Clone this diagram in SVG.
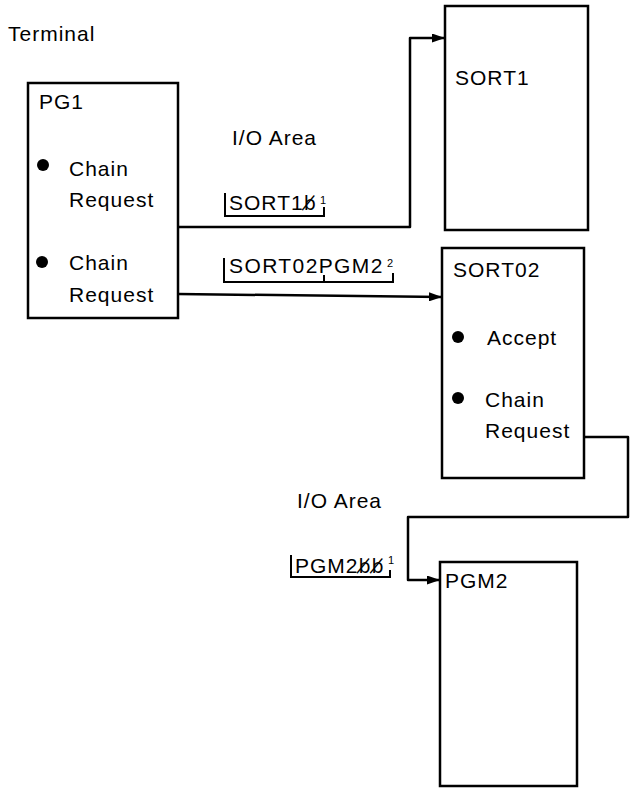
<svg xmlns="http://www.w3.org/2000/svg" width="630" height="789" viewBox="0 0 630 789">
<style>
text{font-family:"Liberation Sans","DejaVu Sans",sans-serif;font-size:21px;fill:#000;letter-spacing:1px}
.sup{font-size:11px;letter-spacing:0}
.bl{font-family:"DejaVu Sans",sans-serif;font-size:19px}
.box{fill:none;stroke:#000;stroke-width:2.5}
.ln{fill:none;stroke:#000;stroke-width:2.5;stroke-linejoin:round}
.br{fill:none;stroke:#000;stroke-width:2}
</style>
<defs>
<marker id="ah" viewBox="0 0 13 9" refX="13" refY="4.5" markerWidth="13" markerHeight="9" markerUnits="userSpaceOnUse" orient="auto">
<path d="M0,0 L13,4.5 L0,9 Z" fill="#000"/>
</marker>
</defs>
<rect width="630" height="789" fill="#fff"/>
<text x="8" y="41">Terminal</text>
<g id="PG1">
<rect class="box" x="28" y="83" width="150" height="235"/>
<text x="39" y="109">PG1</text>
<circle cx="43" cy="165" r="6"/>
<text x="69" y="176">Chain</text>
<text x="69" y="207">Request</text>
<circle cx="42" cy="262" r="6"/>
<text x="69" y="270">Chain</text>
<text x="69" y="302">Request</text>
</g>
<g id="SORT1">
<rect class="box" x="445" y="6" width="143" height="224"/>
<text x="455" y="85">SORT1</text>
</g>
<g id="SORT02">
<rect class="box" x="442" y="248" width="142" height="230"/>
<text x="453" y="277">SORT02</text>
<circle cx="458" cy="337" r="6"/>
<text x="487" y="345">Accept</text>
<circle cx="458" cy="398" r="6"/>
<text x="485" y="407">Chain</text>
<text x="485" y="438">Request</text>
</g>
<g id="PGM2">
<rect class="box" x="440" y="562" width="137" height="224"/>
<text x="445" y="588">PGM2</text>
</g>
<g id="labels">
<text x="232" y="145">I/O Area</text>
<text x="229" y="210">SORT1<tspan class="bl">b̸</tspan></text>
<text class="sup" x="320" y="204">1</text>
<path class="br" d="M225,193 V216 H324 V207"/>
<text x="229" y="273" style="letter-spacing:1.4px">SORT02PGM2</text>
<text class="sup" x="387" y="267">2</text>
<path class="br" d="M224,258 V282 H393 V273 M324,275 V282"/>
<text x="297" y="508">I/O Area</text>
<text x="295" y="573">PGM2<tspan class="bl">b̸b̸</tspan></text>
<text class="sup" x="388" y="564">1</text>
<path class="br" d="M291,555 V577 H390 V570"/>
</g>
<g id="connectors">
<path class="ln" d="M178,227 H410 V38 H445" marker-end="url(#ah)"/>
<path class="ln" d="M178,294 L442,297" marker-end="url(#ah)"/>
<path class="ln" d="M584,437 H628 V517 H408 V580 H440" marker-end="url(#ah)"/>
</g>
</svg>
